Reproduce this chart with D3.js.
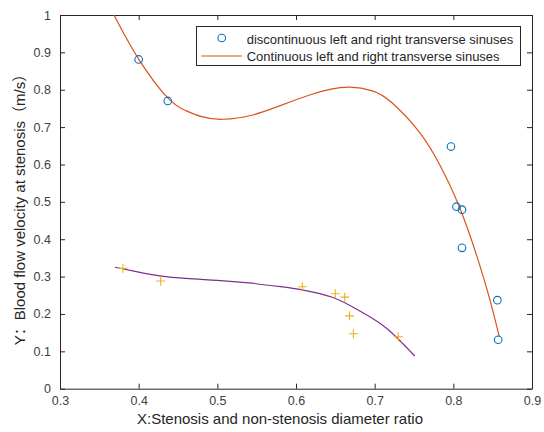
<!DOCTYPE html>
<html>
<head>
<meta charset="utf-8">
<script src="https://cdn.jsdelivr.net/npm/d3@7"></script>
<style>
  body { margin: 0; background: #fff; }
  svg text { font-family: "Liberation Sans", Arial, "Noto Sans CJK SC", sans-serif; }
</style>
</head>
<body>
<div id="chart"></div>
<script>
// measured points (circles) - discontinuous sinuses
var circleX = [0.400, 0.437, 0.797, 0.804, 0.811, 0.811, 0.856, 0.857];
var circleY = [0.881, 0.770, 0.648, 0.487, 0.479, 0.377, 0.237, 0.131];

// measured points (plus) - continuous sinuses
var plusX = [0.380, 0.428, 0.608, 0.650, 0.662, 0.668, 0.673, 0.730];
var plusY = [0.322, 0.288, 0.273, 0.254, 0.245, 0.195, 0.147, 0.139];

// fitted curves
var orangeX = [0.3686, 0.400, 0.437, 0.460, 0.480, 0.5076, 0.545, 0.580, 0.6203, 0.6445, 0.6686, 0.697, 0.722, 0.757, 0.783, 0.8076, 0.8297, 0.8466, 0.8584];
var orangeY = [1.000, 0.882, 0.778, 0.744, 0.728, 0.721, 0.7325, 0.7576, 0.788, 0.8018, 0.807, 0.797, 0.765, 0.686, 0.598, 0.487, 0.356, 0.237, 0.139];

var purpleX = [0.370, 0.400, 0.427, 0.460, 0.500, 0.540, 0.580, 0.609, 0.647, 0.681, 0.715, 0.751];
var purpleY = [0.325, 0.312, 0.302, 0.295, 0.290, 0.283, 0.273, 0.264, 0.244, 0.208, 0.162, 0.0875];

var xTicks = [0.3, 0.4, 0.5, 0.6, 0.7, 0.8, 0.9];
var yTicks = [0, 0.1, 0.2, 0.3, 0.4, 0.5, 0.6, 0.7, 0.8, 0.9, 1];

var legendLabels = ['discontinuous left and right transverse sinuses',
                    'Continuous left and right transverse sinuses'];

var width = 544, height = 432,
    margin = { left: 60, top: 15, right: 12, bottom: 43.3 },
    axisColor = '#262626',
    tickColor = '#404040';

var svg = d3.select('#chart').append('svg')
    .attr('width', width)
    .attr('height', height);

var x = d3.scaleLinear().domain([0.3, 0.9]).range([margin.left, width - margin.right]);
var y = d3.scaleLinear().domain([0, 1]).range([height - margin.bottom, margin.top]);

// axes (ticks inside, box on)
var axB = svg.append('g').attr('transform', 'translate(0,' + y(0) + ')')
    .call(d3.axisBottom(x).tickValues(xTicks).tickSizeInner(-5).tickSizeOuter(0).tickPadding(7).tickFormat(d3.format('.1f')));
var axL = svg.append('g').attr('transform', 'translate(' + x(0.3) + ',0)')
    .call(d3.axisLeft(y).tickValues(yTicks).tickSizeInner(-5).tickSizeOuter(0).tickPadding(9)
        .tickFormat(function (d) { return d === 0 || d === 1 ? d : d3.format('.1f')(d); }));
var axT = svg.append('g').attr('transform', 'translate(0,' + y(1) + ')')
    .call(d3.axisTop(x).tickValues(xTicks).tickSizeInner(-5).tickSizeOuter(0).tickFormat(''));
var axR = svg.append('g').attr('transform', 'translate(' + x(0.9) + ',0)')
    .call(d3.axisRight(y).tickValues(yTicks).tickSizeInner(-5).tickSizeOuter(0).tickFormat(''));

[axB, axL, axT, axR].forEach(function (g) {
    g.select('.domain').attr('stroke', axisColor).attr('stroke-width', 1);
    g.selectAll('.tick line').attr('stroke', axisColor);
    g.selectAll('.tick text').attr('fill', tickColor).style('font-size', '12.5px');
});
axB.selectAll('.tick text').attr('dy', '0.71em');

// fitted curves
var line = d3.line()
    .x(function (d) { return x(d[0]); })
    .y(function (d) { return y(d[1]); })
    .curve(d3.curveNatural);

svg.append('path')
    .datum(d3.zip(orangeX, orangeY))
    .attr('d', line)
    .attr('fill', 'none')
    .attr('stroke', '#D95319')
    .attr('stroke-width', 1.2);

svg.append('path')
    .datum(d3.zip(purpleX, purpleY))
    .attr('d', line)
    .attr('fill', 'none')
    .attr('stroke', '#7E2F8E')
    .attr('stroke-width', 1.2);

// markers
svg.append('g').selectAll('circle')
    .data(d3.zip(circleX, circleY))
    .enter().append('circle')
    .attr('cx', function (d) { return x(d[0]); })
    .attr('cy', function (d) { return y(d[1]); })
    .attr('r', 3.8)
    .attr('fill', 'none')
    .attr('stroke', '#0072BD')
    .attr('stroke-width', 1.1);

svg.append('g').selectAll('path')
    .data(d3.zip(plusX, plusY))
    .enter().append('path')
    .attr('d', function (d) {
        var cx = x(d[0]), cy = y(d[1]), s = 4.5;
        return 'M' + (cx - s) + ',' + cy + 'H' + (cx + s) + 'M' + cx + ',' + (cy - s) + 'V' + (cy + s);
    })
    .attr('stroke', '#EDB120')
    .attr('stroke-width', 1.1);

// legend
var legend = svg.append('g').attr('class', 'legend');
legend.append('rect')
    .attr('x', 196.5).attr('y', 26.5)
    .attr('width', 324).attr('height', 39)
    .attr('fill', '#fff')
    .attr('stroke', axisColor);
legend.append('circle')
    .attr('cx', 221.7).attr('cy', 38)
    .attr('r', 3.8)
    .attr('fill', 'none')
    .attr('stroke', '#0072BD')
    .attr('stroke-width', 1.1);
legend.append('line')
    .attr('x1', 201.5).attr('x2', 242)
    .attr('y1', 56).attr('y2', 56)
    .attr('stroke', '#D95319')
    .attr('stroke-width', 1.2);
legend.selectAll('text.lbl')
    .data(legendLabels)
    .enter().append('text')
    .attr('class', 'lbl')
    .attr('x', 246.7)
    .attr('y', function (d, i) { return 39 + i * 17.5; })
    .attr('dy', '0.35em')
    .style('font-size', '13px')
    .attr('fill', '#262626')
    .text(function (d) { return d; });

// axis titles
svg.append('text')
    .attr('x', 280)
    .attr('y', 424)
    .attr('text-anchor', 'middle')
    .style('font-size', '15px')
    .attr('fill', '#262626')
    .text('X:Stenosis and non-stenosis diameter ratio');

svg.append('text')
    .attr('transform', 'translate(25,' + 206 + ') rotate(-90)')
    .attr('text-anchor', 'middle')
    .style('font-size', '15px')
    .attr('fill', '#262626')
    .text('Y：Blood flow velocity at stenosis（m/s）');
</script>
</body>
</html>
